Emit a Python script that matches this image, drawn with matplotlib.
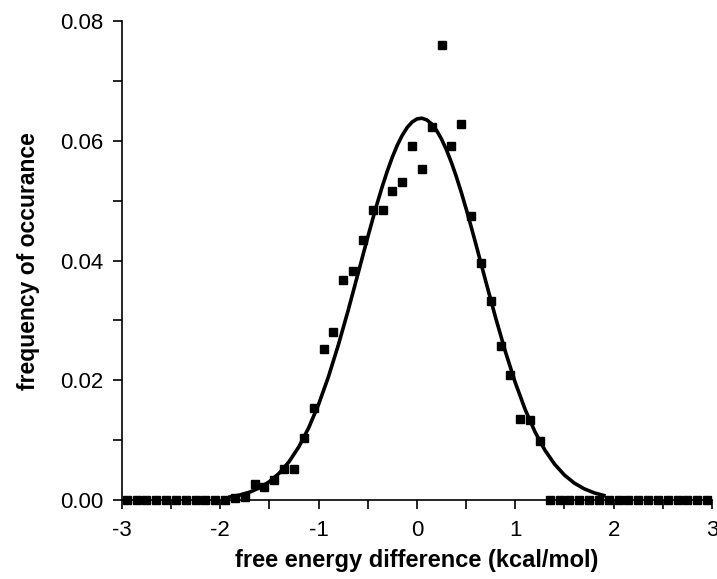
import numpy as np
import matplotlib
matplotlib.use("Agg")
import matplotlib.pyplot as plt
from matplotlib.ticker import MultipleLocator, FormatStrFormatter

# Histogram bin centers and frequencies
bin_centers = [-2.95, -2.85, -2.75, -2.65, -2.55, -2.45, -2.35, -2.25, -2.15, -2.05,
               -1.95, -1.85, -1.75, -1.65, -1.55, -1.45, -1.35, -1.25, -1.15, -1.05,
               -0.95, -0.85, -0.75, -0.65, -0.55, -0.45, -0.35, -0.25, -0.15, -0.05,
               0.05, 0.15, 0.25, 0.35, 0.45, 0.55, 0.65, 0.75, 0.85, 0.95,
               1.05, 1.15, 1.25, 1.35, 1.45, 1.55, 1.65, 1.75, 1.85, 1.95,
               2.05, 2.15, 2.25, 2.35, 2.45, 2.55, 2.65, 2.75, 2.85, 2.95]
frequency = [0.0, 0.0, 0.0, 0.0, 0.0, 0.0, 0.0, 0.0, 0.0, 0.0,
             0.0, 0.0003, 0.0005, 0.0026, 0.0022, 0.0033, 0.0052, 0.0052, 0.0104, 0.0153,
             0.0253, 0.0281, 0.0367, 0.0382, 0.0435, 0.0485, 0.0485, 0.0517, 0.0532, 0.0592,
             0.0553, 0.0624, 0.0761, 0.0591, 0.0629, 0.0474, 0.0396, 0.0333, 0.0257, 0.0209,
             0.0136, 0.0133, 0.0099, 0.0, 0.0, 0.0, 0.0, 0.0, 0.0, 0.0,
             0.0, 0.0, 0.0, 0.0, 0.0, 0.0, 0.0, 0.0, 0.0, 0.0]

fit_x = [-1.9, -1.8, -1.7, -1.6, -1.5, -1.4, -1.3, -1.2, -1.1, -1.0,
         -0.9, -0.8, -0.7, -0.6, -0.5, -0.45, -0.4, -0.35, -0.3, -0.25,
         -0.2, -0.15, -0.1, -0.05, 0.0, 0.05, 0.1, 0.15, 0.2, 0.25,
         0.3, 0.35, 0.4, 0.45, 0.5, 0.55, 0.6, 0.7, 0.8, 0.9, 1.0,
         1.1, 1.2, 1.3, 1.4, 1.5, 1.6, 1.7, 1.8, 1.9]
fit_y = [0.00052, 0.00084, 0.00132, 0.00204, 0.00307, 0.00449, 0.00641, 0.00891, 0.01209, 0.01598,
         0.02059, 0.02586, 0.03165, 0.03777, 0.04393, 0.04692, 0.04980, 0.05251, 0.05502, 0.05729,
         0.05927, 0.06092, 0.06222, 0.06314, 0.06367, 0.06379, 0.06351, 0.06282, 0.06174, 0.06030,
         0.05851, 0.05642, 0.05405, 0.05145, 0.04866, 0.04573, 0.04271, 0.03653, 0.03046, 0.02476, 0.01961,
         0.01514, 0.01140, 0.00836, 0.00598, 0.00417, 0.00283, 0.00188, 0.00121, 0.00076]

x_label = "free energy difference (kcal/mol)"
y_label = "frequency of occurance"

plt.rcParams['font.family'] = ['Liberation Sans', 'DejaVu Sans']
plt.rcParams['axes.unicode_minus'] = False

fig = plt.figure(figsize=(7.17, 5.79), dpi=100)
ax = fig.add_axes([0.170, 0.1364, 0.823, 0.827])

ax.plot(fit_x, fit_y, color='black', linewidth=2.6, zorder=3,
        solid_joinstyle='round')
ax.plot(bin_centers, frequency, linestyle='none', marker='s', markersize=6,
        color='black', clip_on=False, zorder=4)

ax.set_xlim(-3, 3)
ax.set_ylim(0, 0.08)
ax.xaxis.set_major_locator(MultipleLocator(1))
ax.xaxis.set_minor_locator(MultipleLocator(0.5))
ax.yaxis.set_major_locator(MultipleLocator(0.02))
ax.yaxis.set_minor_locator(MultipleLocator(0.01))
ax.yaxis.set_major_formatter(FormatStrFormatter('%.2f'))

for s in ['top', 'right']:
    ax.spines[s].set_visible(False)
for s in ['left', 'bottom']:
    ax.spines[s].set_linewidth(1.2)

ax.tick_params(which='major', direction='out', length=6.5, width=1.2, labelsize=16)
ax.tick_params(which='minor', direction='out', length=6.5, width=1.2)
ax.tick_params(axis='x', which='major', pad=8)
ax.tick_params(axis='y', which='major', pad=7)

ax.set_xlabel(x_label, fontsize=17, fontweight='bold', labelpad=6)
ax.set_ylabel(y_label, fontsize=16.5, fontweight='bold', labelpad=14)

fig.savefig("out.png", dpi=100)
